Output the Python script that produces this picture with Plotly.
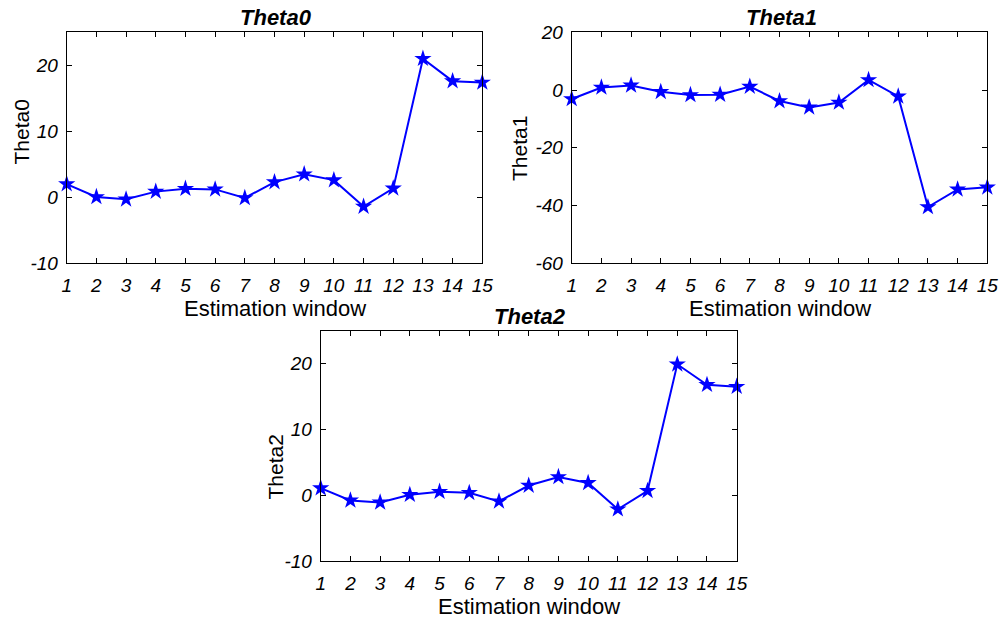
import plotly.graph_objects as go

windows = list(range(1, 16))
theta0 = [2.0, 0.05, -0.3, 0.86, 1.3, 1.2, -0.1, 2.3, 3.5, 2.6, -1.4, 1.35, 21.0, 17.6, 17.4]
theta1 = [-3.1, 0.9, 1.6, -0.6, -1.7, -1.6, 1.2, -3.8, -6.0, -4.3, 3.5, -2.2, -40.5, -34.4, -33.7]
theta2 = [1.1, -0.76, -1.06, 0.1, 0.56, 0.4, -0.9, 1.5, 2.8, 1.9, -2.1, 0.7, 19.9, 16.8, 16.5]

names = ["Theta0", "Theta1", "Theta2"]
series = [theta0, theta1, theta2]
yranges = [[-10, 25], [-60, 20], [-10, 25]]
ytickvals = [[-10, 0, 10, 20], [-60, -40, -20, 0, 20], [-10, 0, 10, 20]]

W, H = 1005, 619
# plot boxes in pixels: (left, right, top, bottom)
boxes = [(66.7, 482.3, 32.3, 263.3), (571.7, 987.3, 32.3, 263.3), (320.7, 736.7, 330.7, 561.3)]
# y-label centres in pixels (x, y)
ylabel_pos = [(21, 132.5), (520, 149), (275, 467.5)]

FONT = "Liberation Sans, Arial, Helvetica, sans-serif"
fig = go.Figure()
annotations = []
for i, (nm, ys, yr, tv, box, yl) in enumerate(zip(names, series, yranges, ytickvals, boxes, ylabel_pos)):
    sfx = "" if i == 0 else str(i + 1)
    l, r, t, b = box
    fig.add_trace(go.Scatter(
        x=windows, y=ys, mode="lines+markers",
        line=dict(color="rgb(0,0,255)", width=2),
        marker=dict(symbol="star", size=13, color="rgb(0,0,255)"),
        xaxis="x" + sfx, yaxis="y" + sfx, showlegend=False, cliponaxis=False))
    common = dict(showline=True, linecolor="black", linewidth=1, mirror="allticks",
                  ticks="inside", ticklen=5, tickcolor="black", showgrid=False, zeroline=False,
                  automargin=False,
                  tickfont=dict(family=FONT, size=19, color="black", style="italic"))
    fig.layout["xaxis" + sfx] = dict(domain=[l / W, r / W], range=[1, 15], tickvals=windows,
                                     ticktext=[str(w) for w in windows],
                                     anchor="y" + sfx, ticklabelstandoff=5, **common)
    fig.layout["yaxis" + sfx] = dict(domain=[1 - b / H, 1 - t / H], range=yr, tickvals=tv,
                                     ticktext=[str(v) for v in tv],
                                     anchor="x" + sfx, ticklabelstandoff=4, **common)
    cx = (l + r) / 2 / W
    annotations.append(dict(text="<b><i>" + nm + "</i></b>", x=cx + 1.5 / W, y=1 - (t - 14.5) / H,
                            xref="paper", yref="paper", showarrow=False, xanchor="center",
                            yanchor="middle", font=dict(family=FONT, size=22, color="black")))
    annotations.append(dict(text="Estimation window", x=cx, y=1 - (b + 45) / H,
                            xref="paper", yref="paper", showarrow=False, xanchor="center",
                            yanchor="middle", font=dict(family=FONT, size=22, color="black")))
    annotations.append(dict(text=nm, x=yl[0] / W, y=1 - yl[1] / H, textangle=-90,
                            xref="paper", yref="paper", showarrow=False, xanchor="center",
                            yanchor="middle", font=dict(family=FONT, size=21, color="black")))

fig.update_layout(width=W, height=H, margin=dict(l=0, r=0, t=0, b=0, pad=0, autoexpand=False),
                  paper_bgcolor="white", plot_bgcolor="white", annotations=annotations)
fig.write_html("out.html", post_script="document.body.style.margin='0';")
